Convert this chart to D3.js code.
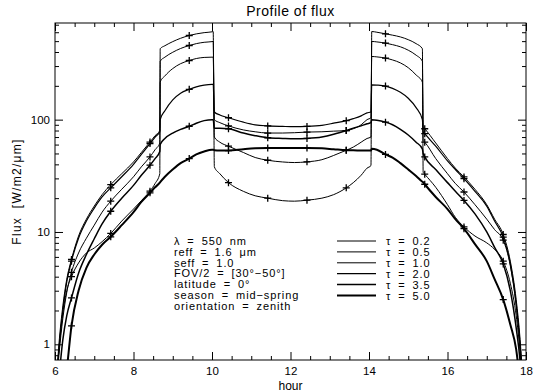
<!DOCTYPE html>
<html>
<head>
<meta charset="utf-8">
<script src="https://cdn.jsdelivr.net/npm/d3@7"></script>
<style>
  body { margin: 0; background: #fff; }
  text { font-family: "Liberation Sans", Arial, sans-serif; fill: #000; }
</style>
</head>
<body>
<div id="chart"></div>
<script>
// hours of the sampled profile (jumps are two close hours)
const hours = [6.0, 6.1, 6.2, 6.3, 6.42, 6.6, 6.8, 7.0, 7.2, 7.42, 7.7, 8.0, 8.2, 8.42, 8.55, 8.67,
  8.68, 8.8, 9.0, 9.2, 9.42, 9.6, 9.8, 10.0, 10.03,
  10.06, 10.2, 10.42, 10.8, 11.1, 11.42, 11.8, 12.1, 12.42, 12.8, 13.1, 13.42, 13.6, 13.8, 13.95, 14.05,
  14.07, 14.2, 14.42, 14.6, 14.8, 15.0, 15.2, 15.36,
  15.38, 15.42, 15.7, 16.0, 16.2, 16.42, 16.7, 17.0, 17.2, 17.42, 17.6, 17.75, 17.85, 17.95];

const flux02 = [0.3, 0.9, 1.9, 3.0, 4.0, 5.3, 6.5, 7.2, 8.2, 9.7, 12.5, 16, 19, 23.1, 27, 33,
  428, 455, 495, 530, 561, 580, 595, 605, 609,
  38, 33, 27.5, 23, 21, 20, 19, 18.8, 19.2, 20, 21.5, 24.7, 27.5, 32, 37, 39,
  609, 600, 581, 565, 545, 515, 475, 428,
  34, 32.7, 25, 17.5, 13.5, 11.1, 9.2, 8.0, 7.0, 5.5, 3.5, 1.8, 0.85, 0.3];
const flux05 = [0.3, 0.8, 1.7, 2.9, 4.37, 6.5, 8.8, 11.5, 15, 18.8, 24, 31, 38, 46.6, 54, 62,
  331, 360, 398, 430, 457, 475, 488, 495, 497,
  70, 63, 58, 51, 46, 43.5, 42, 41.5, 42.1, 44, 48, 53.4, 57, 63, 68, 70,
  497, 492, 480, 465, 445, 415, 375, 331,
  65, 63, 45, 33, 27, 22.7, 17.5, 13, 10.5, 8.45, 5, 2.2, 0.95, 0.3];
const flux10 = [0.3, 1.0, 2.2, 3.8, 5.7, 9.2, 13, 17, 21.5, 26.4, 33, 42, 51, 63.2, 72, 80,
  216, 245, 285, 315, 336, 350, 358, 360, 360,
  100, 94, 88, 81, 78, 76, 76, 76.5, 77.5, 78, 79, 80, 83, 90, 100, 104,
  365, 362, 353, 340, 320, 290, 250, 216,
  86, 83, 62, 45, 37, 30.9, 24, 17.5, 13, 9.5, 5.5, 2.5, 1.1, 0.3];
const flux20 = [0.3, 0.9, 2.0, 3.6, 5.5, 8.8, 12.5, 16.3, 20.5, 24.7, 31, 40, 49, 61.2, 70, 78,
  100, 120, 150, 172, 186, 196, 203, 206, 206,
  117, 110, 104, 95, 90, 88, 87, 86.5, 87, 89, 93, 98, 102, 108, 115, 117,
  204, 203, 199, 190, 175, 155, 128, 100,
  78, 75, 58, 43, 36, 29.8, 23, 17, 12.5, 9.0, 5.2, 2.3, 1.0, 0.3];
const flux35 = [0.2, 0.5, 1.1, 1.8, 2.59, 4.3, 6.3, 8.7, 11.8, 15.3, 20, 26, 32, 39.3, 45, 52,
  60, 68, 76, 82, 87.3, 93, 98, 100, 100,
  84, 84, 83, 76, 72, 69, 68, 67.5, 68, 70, 74, 80, 84, 88, 92, 94,
  100, 99, 95, 90, 82, 73, 63, 55,
  50, 46.6, 36, 27.5, 23, 19.1, 14.5, 10, 7.3, 5.2, 3.0, 1.4, 0.7, 0.2];
const flux50 = [0.1, 0.2, 0.35, 0.6, 1.46, 3.0, 4.8, 6.3, 7.7, 9.06, 11.5, 15, 18.5, 22.3, 25, 27.5,
  27.8, 31, 36, 41, 45, 49, 52, 54, 54,
  53.5, 53, 53, 54.5, 55.5, 56, 56, 56, 56, 55.5, 54.5, 53.5, 53.5, 53, 53, 53,
  55, 54, 49, 46, 41, 36, 31.5, 28,
  27.7, 26.6, 20.5, 16, 13, 10.7, 7.8, 5.5, 3.8, 2.5, 1.5, 0.9, 0.45, 0.2];

const taus = ["0.2", "0.5", "1.0", "2.0", "3.5", "5.0"];
const fluxes = [flux02, flux05, flux10, flux20, flux35, flux50];
const markerHours = [6.42, 7.42, 8.42, 9.42, 10.42, 11.42, 12.42, 13.42, 14.42, 15.42, 16.42, 17.42];

const xTicks = [6, 8, 10, 12, 14, 16, 18];
const yTicks = [1, 10, 100];

const infoLines = ["λ = 550 nm", "reff = 1.6 μm", "seff = 1.0", "FOV/2 = [30°−50°]",
  "latitude = 0°", "season = mid−spring", "orientation = zenith"];

const widths = [1, 1, 1, 1.2, 1.5, 2];

const W = 536, H = 392;
const margin = { top: 23, right: 10, bottom: 32, left: 55 };
const width = W - margin.left - margin.right;
const height = H - margin.top - margin.bottom;

const svg = d3.select("#chart").append("svg")
  .attr("width", W).attr("height", H);

const x = d3.scaleLinear().domain([6, 18]).range([0, width]);
const y = d3.scaleLog().domain([0.725, 725]).range([height, 0]);

const g = svg.append("g").attr("transform", `translate(${margin.left},${margin.top})`);

g.append("clipPath").attr("id", "clip")
  .append("rect").attr("width", width).attr("height", height);

// curves
const line = d3.line()
  .x(d => x(d[0]))
  .y(d => y(Math.max(d[1], 0.05)))
  .curve(d3.curveMonotoneX);

const series = taus.map((t, i) => ({
  tau: t,
  width: widths[i],
  points: hours.map((h, j) => [h, fluxes[i][j]])
}));

const plot = g.append("g").attr("clip-path", "url(#clip)");
plot.selectAll(".curve")
  .data(series)
  .enter().append("path")
  .attr("class", "curve")
  .attr("d", d => line(d.points))
  .attr("fill", "none")
  .attr("stroke", "#000")
  .attr("stroke-width", d => d.width);

// + markers
series.forEach(s => {
  const pts = s.points.filter(p => markerHours.includes(p[0]) && p[1] > 0.725);
  plot.selectAll(null)
    .data(pts)
    .enter().append("path")
    .attr("d", p => {
      const px = x(p[0]), py = y(p[1]), r = 3.5;
      return `M${px - r},${py}H${px + r}M${px},${py - r}V${py + r}`;
    })
    .attr("stroke", "#000")
    .attr("stroke-width", 1.3);
});

// frame
g.append("rect").attr("width", width).attr("height", height)
  .attr("fill", "none").attr("stroke", "#000").attr("stroke-width", 1);

// x axis ticks (bottom and top, pointing in)
const xMinor = d3.range(6, 18.01, 0.5).filter(v => !xTicks.includes(v));
g.append("g").attr("transform", `translate(0,${height})`)
  .call(d3.axisBottom(x).tickValues(xTicks).tickSize(-8).tickPadding(7).tickFormat(d3.format("d")));
g.append("g").attr("transform", `translate(0,${height})`)
  .call(d3.axisBottom(x).tickValues(xMinor).tickSize(-4).tickFormat(""));
g.append("g").call(d3.axisTop(x).tickValues(xTicks).tickSize(-8).tickFormat(""));
g.append("g").call(d3.axisTop(x).tickValues(xMinor).tickSize(-4).tickFormat(""));

// y axis ticks (left and right)
const yMinor = [];
[0.1, 1, 10, 100].forEach(dec => {
  for (let k = 2; k <= 9; k++) {
    const v = k * dec;
    if (v > 0.725 && v < 725) yMinor.push(v);
  }
});
g.append("g").call(d3.axisLeft(y).tickValues(yTicks).tickSize(-8).tickPadding(5).tickFormat(d3.format("d")));
g.append("g").call(d3.axisLeft(y).tickValues(yMinor).tickSize(-4).tickFormat(""));
g.append("g").attr("transform", `translate(${width},0)`)
  .call(d3.axisRight(y).tickValues(yTicks).tickSize(-8).tickFormat(""));
g.append("g").attr("transform", `translate(${width},0)`)
  .call(d3.axisRight(y).tickValues(yMinor).tickSize(-4).tickFormat(""));

g.selectAll(".domain").remove();
g.selectAll(".tick line").attr("stroke", "#000");
g.selectAll(".tick text").style("font-size", "11.5px")
  .style("font-family", "'Liberation Sans', Arial, sans-serif");

// titles
svg.append("text")
  .attr("x", margin.left + width / 2).attr("y", 16)
  .attr("text-anchor", "middle")
  .style("font-size", "14px")
  .style("letter-spacing", "0.5px")
  .text("Profile of flux");

svg.append("text")
  .attr("x", margin.left + width / 2).attr("y", 390)
  .attr("text-anchor", "middle")
  .style("font-size", "12px")
  .text("hour");

svg.append("text")
  .attr("transform", `translate(21,${margin.top + height / 2}) rotate(-90)`)
  .attr("text-anchor", "middle")
  .style("font-size", "12px")
  .style("letter-spacing", "1.3px")
  .style("word-spacing", "4px")
  .text("Flux [W/m2/μm]");

// info block
const info = svg.append("g");
infoLines.forEach((t, i) => {
  info.append("text")
    .attr("x", 174).attr("y", 245 + i * 10.8)
    .style("font-size", "11px")
    .style("letter-spacing", "0.9px")
    .style("word-spacing", "3px")
    .text(t);
});

// legend
taus.forEach((t, i) => {
  const ly = 241 + i * 10.9;
  svg.append("line")
    .attr("x1", 337).attr("x2", 376).attr("y1", ly).attr("y2", ly)
    .attr("stroke", "#000").attr("stroke-width", widths[i]);
  svg.append("text")
    .attr("x", 386).attr("y", ly + 4)
    .style("font-size", "11px")
    .style("letter-spacing", "0.9px")
    .style("word-spacing", "3px")
    .text("τ = " + t);
});
</script>
</body>
</html>
